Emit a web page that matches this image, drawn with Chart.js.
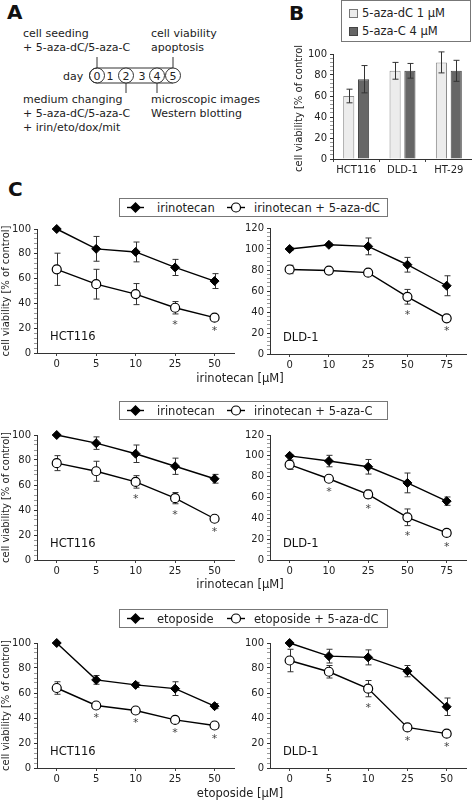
<!DOCTYPE html>
<html>
<head>
<meta charset="utf-8">
<script src="https://cdn.jsdelivr.net/npm/chart.js@4.4.1/dist/chart.umd.min.js"></script>
<style>
  body { margin: 0; background: #fff; }
  #fig { position: relative; width: 472px; height: 800px; font-family: 'DejaVu Sans', sans-serif; color: #222; overflow: hidden; background: #fff; }
  #fig canvas { position: absolute; }
  .lbl { position: absolute; font-weight: bold; font-size: 20px; line-height: 20px; color: #111; }
  .judul-x { position: absolute; font-size: 11.5px; line-height: 13px; white-space: nowrap; transform: translate(-50%, -50%); }
  .leg { position: absolute; border: 1px solid #777; box-sizing: border-box; background: #fff; font-size: 11.5px; }
  .leg span { position: absolute; white-space: nowrap; top: 50%; transform: translateY(-50%); }
  .leg svg { position: absolute; left: 0; top: 0; }
</style>
</head>
<body>
<div id="fig">
  <svg id="panelA" width="290" height="140" style="position:absolute;left:0;top:0" font-family="DejaVu Sans" font-size="11" fill="#222">
    <text x="23" y="37">cell seeding</text>
    <text x="23" y="51">+ 5-aza-dC/5-aza-C</text>
    <text x="151" y="37">cell viability</text>
    <text x="151" y="51">apoptosis</text>
    <g stroke="#333" stroke-width="1" fill="none">
      <line x1="97" y1="57" x2="97" y2="68"/>
      <line x1="173" y1="57" x2="173" y2="68"/>
      <line x1="126" y1="83" x2="126" y2="93"/>
      <line x1="157" y1="83" x2="157" y2="93"/>
      <line x1="97" y1="68" x2="173" y2="68"/>
      <line x1="97" y1="83" x2="173" y2="83"/>
      <circle cx="97" cy="75.5" r="7.5" fill="#fff"/>
      <circle cx="126" cy="75.5" r="7.5" fill="#fff"/>
      <circle cx="157" cy="75.5" r="7.5" fill="#fff"/>
      <circle cx="173" cy="75.5" r="7.5" fill="#fff"/>
      <path d="M97 68 A7.5 7.5 0 0 0 97 83"/>
    </g>
    <text x="63" y="80">day</text>
    <g text-anchor="middle">
      <text x="97" y="80">0</text>
      <text x="110" y="80">1</text>
      <text x="126" y="80">2</text>
      <text x="142" y="80">3</text>
      <text x="157" y="80">4</text>
      <text x="173" y="80">5</text>
    </g>
    <text x="23" y="103">medium changing</text>
    <text x="23" y="117">+ 5-aza-dC/5-aza-C</text>
    <text x="23" y="131">+ irin/eto/dox/mit</text>
    <text x="151" y="103">microscopic images</text>
    <text x="151" y="117">Western blotting</text>
  </svg>
  <div class="lbl" style="left:7px;top:2px">A</div>
  <div class="lbl" style="left:289px;top:3px">B</div>
  <div class="lbl" style="left:8px;top:179px">C</div>

  <div id="legB" class="leg" style="left:341px;top:0;width:130px;height:42px"></div>

  <canvas id="cB" width="179" height="135" style="left:293px;top:45px"></canvas>
  <canvas id="c1a" width="240" height="153" style="left:0;top:220px"></canvas>
  <canvas id="c1b" width="232" height="153" style="left:240px;top:219px"></canvas>
  <canvas id="c2a" width="240" height="154" style="left:0;top:426px"></canvas>
  <canvas id="c2b" width="232" height="154" style="left:240px;top:426px"></canvas>
  <canvas id="c3a" width="240" height="152" style="left:0;top:634px"></canvas>
  <canvas id="c3b" width="232" height="152" style="left:240px;top:634px"></canvas>

  <div class="judul-x" style="left:240px;top:378px">irinotecan [µM]</div>
  <div class="judul-x" style="left:240px;top:584px">irinotecan [µM]</div>
  <div class="judul-x" style="left:240px;top:793px">etoposide [µM]</div>
</div>

<script>
// ---------- data panel B ----------
var kategoriB   = ['HCT116', 'DLD-1', 'HT-29'];
var azaDC_B     = [60, 84, 92];
var azaDC_Bgal  = [6.5, 8, 10];
var azaC_B      = [76, 84, 84];
var azaC_Bgal   = [13, 7, 10];

// ---------- data panel C ----------
var dosisHCT    = ['0', '5', '10', '25', '50'];
var dosisDLDir  = ['0', '10', '25', '50', '75'];
var dosisDLDet  = ['0', '5', '10', '25', '50'];

// baris 1: irinotecan vs irinotecan + 5-aza-dC
var hctIrin1      = [100, 84, 81.5, 69, 58];
var hctIrin1Gal   = [0, 10, 8, 6.5, 6];
var hctIrinDC     = [67.5, 55.5, 47.5, 36.5, 28.5];
var hctIrinDCGal  = [13, 12, 8.5, 5, 2];
var hctIrinDCSig  = [0, 0, 0, 1, 1];
var dldIrin1      = [100, 104, 102.5, 85, 65];
var dldIrin1Gal   = [1.5, 1.5, 8, 7, 9.5];
var dldIrinDC     = [80.5, 79.5, 77.5, 54.5, 34];
var dldIrinDCGal  = [4, 2, 2, 7, 2];
var dldIrinDCSig  = [0, 0, 0, 1, 1];

// baris 2: irinotecan vs irinotecan + 5-aza-C
var hctIrin2      = [100, 93.5, 85, 75, 65];
var hctIrin2Gal   = [0, 5, 7, 6.5, 3.5];
var hctIrinC      = [77.5, 71, 62.5, 49.5, 33];
var hctIrinCGal   = [6, 8, 5, 4.5, 2];
var hctIrinCSig   = [0, 0, 1, 1, 1];
var dldIrin2      = [100, 95, 89.5, 74, 56.5];
var dldIrin2Gal   = [1, 5.5, 7, 9.5, 4];
var dldIrinC      = [91.5, 78, 63, 41, 26];
var dldIrinCGal   = [4.5, 2.5, 4, 8, 3];
var dldIrinCSig   = [0, 1, 1, 1, 1];

// baris 3: etoposide vs etoposide + 5-aza-dC
var hctEto        = [100, 70.5, 66.5, 63.5, 49.5];
var hctEtoGal     = [0, 3.5, 2, 5.5, 2];
var hctEtoDC      = [64, 50, 46, 38.5, 34];
var hctEtoDCGal   = [5, 1.5, 1.5, 2, 2];
var hctEtoDCSig   = [0, 1, 1, 1, 1];
var dldEto        = [100, 89.5, 88.5, 77.5, 49];
var dldEtoGal     = [0, 5.5, 6, 4.5, 7];
var dldEtoDC      = [86, 77, 63.5, 32.5, 27.5];
var dldEtoDCGal   = [9, 5, 6.5, 2, 2];
var dldEtoDCSig   = [0, 0, 1, 1, 1];

var judulY = 'cell viability [% of control]';

Chart.defaults.font.family = "'DejaVu Sans', sans-serif";
Chart.defaults.color = '#222';

// error bar + bintang + label sel
function gambarGalat(chart) {
  let ctx = chart.ctx, sy = chart.scales.y;
  chart.data.datasets.forEach(function(ds, i) {
    if (!ds.galat) return;
    let meta = chart.getDatasetMeta(i);
    ctx.save();
    ctx.strokeStyle = '#333';
    ctx.lineWidth = 1;
    meta.data.forEach(function(el, j) {
      let e = ds.galat[j];
      if (!e) return;
      let x = Math.round(el.x) + 0.5;
      let yt = sy.getPixelForValue(ds.data[j] + e), yb = sy.getPixelForValue(ds.data[j] - e);
      ctx.beginPath();
      ctx.moveTo(x, yt); ctx.lineTo(x, yb);
      ctx.moveTo(x - 3, yt); ctx.lineTo(x + 3, yt);
      ctx.moveTo(x - 3, yb); ctx.lineTo(x + 3, yb);
      ctx.stroke();
    });
    ctx.restore();
  });
}

function gambarBintang(chart) {
  let ctx = chart.ctx, sy = chart.scales.y;
  chart.data.datasets.forEach(function(ds, i) {
    if (!ds.bintang) return;
    let meta = chart.getDatasetMeta(i);
    ctx.save();
    ctx.fillStyle = '#444';
    ctx.font = "11px 'DejaVu Sans'";
    ctx.textAlign = 'center';
    ctx.textBaseline = 'middle';
    meta.data.forEach(function(el, j) {
      if (!ds.bintang[j]) return;
      let yb = sy.getPixelForValue(ds.data[j] - (ds.galat[j] || 0));
      ctx.fillText('*', el.x, yb + 11);
    });
    ctx.restore();
  });
}

var pluginGalat = {
  id: 'galat',
  beforeDatasetsDraw: function(chart) {
    if (chart.config.type === 'line') gambarGalat(chart);
  },
  afterDatasetsDraw: function(chart, args, opts) {
    if (chart.config.type === 'bar') gambarGalat(chart);
    gambarBintang(chart);
    if (opts && opts.label) {
      let a = chart.chartArea, ctx = chart.ctx;
      ctx.save();
      ctx.fillStyle = '#111';
      ctx.font = "11.5px 'DejaVu Sans'";
      ctx.textBaseline = 'middle';
      ctx.fillText(opts.label, a.left + 13, a.bottom - 16);
      ctx.restore();
    }
  }
};
Chart.register(pluginGalat);

function skalaY(yMax, lebar, judul) {
  return {
    min: 0, max: yMax,
    ticks: {
      stepSize: 4, maxTicksLimit: 100, autoSkip: false, font: { size: 10 }, padding: 3,
      callback: function(v) { return v % 20 === 0 ? v : ''; }
    },
    grid: {
      drawOnChartArea: false, tickLength: 3,
      color: function(c) { return c.tick && c.tick.value % 20 === 0 ? '#333' : '#999'; }
    },
    border: { color: '#333' },
    title: judul ? { display: true, text: judul, font: { size: 10 }, padding: 0 } : { display: false },
    afterFit: function(s) { s.width = lebar; }
  };
}

// p: kiri, atas, lebar, tinggi (canvas) ; ax0, ax1, ay0, ay1 (area plot)
function grafikGaris(id, p, kategori, seri1, gal1, seri2, gal2, sig2, yMax, label, judul) {
  return new Chart(document.getElementById(id), {
    type: 'line',
    data: {
      labels: kategori,
      datasets: [
        {
          data: seri1, galat: gal1,
          borderColor: '#000', borderWidth: 1.4,
          pointStyle: 'rectRot', pointRadius: 4.5,
          pointBackgroundColor: '#000', pointBorderColor: '#000', pointBorderWidth: 1,
          fill: false, tension: 0, clip: false
        },
        {
          data: seri2, galat: gal2, bintang: sig2,
          borderColor: '#000', borderWidth: 1.4,
          pointStyle: 'circle', pointRadius: 4.5,
          pointBackgroundColor: '#fff', pointBorderColor: '#000', pointBorderWidth: 1.2,
          fill: false, tension: 0, clip: false
        }
      ]
    },
    options: {
      responsive: false, animation: false, events: [],
      layout: { padding: { top: p.ay0 - p.atas, right: p.kiri + p.lebar - p.ax1, left: 0, bottom: 0 } },
      plugins: { legend: { display: false }, tooltip: { enabled: false }, galat: { label: label } },
      scales: {
        x: {
          offset: true,
          grid: { offset: false, drawOnChartArea: false, tickLength: 3, color: '#444' },
          border: { color: '#333' },
          ticks: { font: { size: 10 }, padding: 2, maxRotation: 0 },
          afterFit: function(s) { s.height = p.atas + p.tinggi - p.ay1; }
        },
        y: skalaY(yMax, p.ax0 - p.kiri, judul)
      }
    }
  });
}

// ---------- panel B ----------
new Chart(document.getElementById('cB'), {
  type: 'bar',
  data: {
    labels: kategoriB,
    datasets: [
      { data: azaDC_B, galat: azaDC_Bgal, backgroundColor: '#ececec', borderColor: '#8a8a8a', borderWidth: 1,
        categoryPercentage: 0.64, barPercentage: 0.75 },
      { data: azaC_B, galat: azaC_Bgal, backgroundColor: '#666666', borderColor: '#444444', borderWidth: 1,
        categoryPercentage: 0.64, barPercentage: 0.75 }
    ]
  },
  options: {
    responsive: false, animation: false, events: [],
    layout: { padding: { top: 8, right: 0, left: 0, bottom: 0 } },
    plugins: { legend: { display: false }, tooltip: { enabled: false } },
    scales: {
      x: {
        grid: { drawOnChartArea: false, tickLength: 3, color: '#444' },
        border: { color: '#333' },
        ticks: { font: { size: 10 }, padding: 2, maxRotation: 0 },
        afterFit: function(s) { s.height = 21; }
      },
      y: skalaY(100, 40, judulY)
    }
  }
});

document.getElementById('legB').innerHTML =
  '<svg width="130" height="42">' +
  '<rect x="7.5" y="8.5" width="8" height="8" fill="#ececec" stroke="#777"/>' +
  '<rect x="7.5" y="26.5" width="8" height="8" fill="#666" stroke="#444"/></svg>' +
  '<span style="left:20px;top:12px">5-aza-dC 1 µM</span>' +
  '<span style="left:20px;top:30px">5-aza-C 4 µM</span>';

// ---------- legenda panel C ----------
function legendaC(atas, teks1, teks2) {
  let d = document.createElement('div');
  d.className = 'leg';
  d.style.left = '119px';
  d.style.top = atas + 'px';
  d.style.width = '269px';
  d.style.height = '19px';
  d.innerHTML =
    '<svg width="269" height="19" stroke="#000" stroke-width="1.4">' +
    '<line x1="7" y1="8.5" x2="24" y2="8.5"/>' +
    '<polygon points="15.5,4 20,8.5 15.5,13 11,8.5" fill="#000"/>' +
    '<line x1="107" y1="8.5" x2="125" y2="8.5"/>' +
    '<circle cx="116" cy="8.5" r="4.5" fill="#fff" stroke-width="1.2"/></svg>' +
    '<span style="left:37px">' + teks1 + '</span>' +
    '<span style="left:134px">' + teks2 + '</span>';
  document.getElementById('fig').appendChild(d);
}
legendaC(198, 'irinotecan', 'irinotecan + 5-aza-dC');
legendaC(401, 'irinotecan', 'irinotecan + 5-aza-C');
legendaC(609, 'etoposide', 'etoposide + 5-aza-dC');

// ---------- panel C ----------
grafikGaris('c1a', { kiri: 0, atas: 220, lebar: 240, tinggi: 153, ax0: 37, ax1: 237, ay0: 227, ay1: 353 },
  dosisHCT, hctIrin1, hctIrin1Gal, hctIrinDC, hctIrinDCGal, hctIrinDCSig, 100, 'HCT116', judulY);
grafikGaris('c1b', { kiri: 240, atas: 219, lebar: 232, tinggi: 153, ax0: 270, ax1: 469, ay0: 226, ay1: 354 },
  dosisDLDir, dldIrin1, dldIrin1Gal, dldIrinDC, dldIrinDCGal, dldIrinDCSig, 120, 'DLD-1', null);

grafikGaris('c2a', { kiri: 0, atas: 426, lebar: 240, tinggi: 154, ax0: 37, ax1: 237, ay0: 433, ay1: 560 },
  dosisHCT, hctIrin2, hctIrin2Gal, hctIrinC, hctIrinCGal, hctIrinCSig, 100, 'HCT116', judulY);
grafikGaris('c2b', { kiri: 240, atas: 426, lebar: 232, tinggi: 154, ax0: 270, ax1: 469, ay0: 433, ay1: 560 },
  dosisDLDir, dldIrin2, dldIrin2Gal, dldIrinC, dldIrinCGal, dldIrinCSig, 120, 'DLD-1', null);

grafikGaris('c3a', { kiri: 0, atas: 634, lebar: 240, tinggi: 152, ax0: 37, ax1: 237, ay0: 641, ay1: 768 },
  dosisHCT, hctEto, hctEtoGal, hctEtoDC, hctEtoDCGal, hctEtoDCSig, 100, 'HCT116', judulY);
grafikGaris('c3b', { kiri: 240, atas: 634, lebar: 232, tinggi: 152, ax0: 270, ax1: 469, ay0: 641, ay1: 768 },
  dosisDLDet, dldEto, dldEtoGal, dldEtoDC, dldEtoDCGal, dldEtoDCSig, 100, 'DLD-1', null);
</script>
</body>
</html>
